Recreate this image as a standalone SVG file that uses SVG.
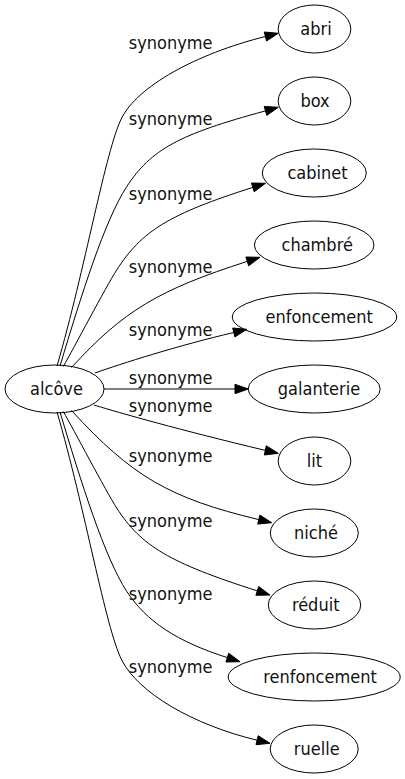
<svg xmlns="http://www.w3.org/2000/svg" width="405" height="779" viewBox="0 0 405 779">
<style>
.n ellipse{fill:none;stroke:#000;stroke-width:1}
text{font-family:"DejaVu Sans Condensed","DejaVu Sans",sans-serif;font-size:18px;fill:#111;text-anchor:middle}
.e path{fill:none;stroke:#000;stroke-width:1}
.e polygon{fill:#000;stroke:#000;stroke-width:1}
</style>
<rect width="405" height="779" fill="#fff"/>
<g class="e" id="edges">
<path d="M57,366 C85,270 105.5,150 121.7,118 C137.5,86.7 195,54.1 265.4,36.5"/>
<polygon points="278.3,33.3 266.5,41 264.3,32"/>
<text x="170.6" y="49">synonyme</text>
<path d="M60,366 C81,296 104.7,220.3 126.7,186.7 C151.1,149.4 178.9,134.3 265.5,110.9"/>
<polygon points="278.3,107.3 266.8,115.4 264.2,106.4"/>
<text x="170.6" y="124.5">synonyme</text>
<path d="M63.3,366.5 C73.3,349.1 105.9,286.8 116.7,270 C142,230.6 169.2,214.1 252.8,187.4"/>
<polygon points="265.5,183.3 254.2,191.8 251.4,183"/>
<text x="170.6" y="200">synonyme</text>
<path d="M71.5,367.5 C123.3,311 158.4,289.8 247.3,261.4"/>
<polygon points="260,257.3 248.7,265.8 245.9,257"/>
<text x="170.6" y="273">synonyme</text>
<path d="M95,373 C120,364 180,345 233.8,332.5"/>
<polygon points="246.7,329.3 234.9,337 232.7,328"/>
<text x="170.6" y="336">synonyme</text>
<path d="M104,389 L235,389"/>
<polygon points="248.3,389 235,393.67 235,384.33"/>
<text x="170.6" y="384">synonyme</text>
<path d="M94,405 C120,413 180,430 265.3,450.4"/>
<polygon points="278.3,453.3 264.3,455 266.3,445.8"/>
<text x="170.6" y="412">synonyme</text>
<path d="M71.5,410.5 C131.8,476.3 169.3,498.2 258.8,519.6"/>
<polygon points="271.7,522.7 257.7,524.1 259.9,515.1"/>
<text x="170.6" y="462">synonyme</text>
<path d="M63.3,411.5 C73.3,428.9 105.9,491.2 116.7,508 C141.3,546.2 169.4,562.7 257.3,590.9"/>
<polygon points="270,595 255.9,595.3 258.7,586.5"/>
<text x="170.6" y="527">synonyme</text>
<path d="M60,412 C81,482 104.7,557.7 126.7,591.3 C146.5,621.5 176.7,641.4 227.3,657.6"/>
<polygon points="240,661.7 225.9,662 228.7,653.2"/>
<text x="170.6" y="600">synonyme</text>
<path d="M57,412 C85,508 105.5,628 121.7,660 C138.2,692.6 192.4,724.7 257.1,740.2"/>
<polygon points="270,743.3 256,744.7 258.2,735.7"/>
<text x="170.6" y="673">synonyme</text>
</g>
<g class="n" id="node-alcove"><ellipse cx="54.5" cy="389" rx="49.5" ry="24"/><text x="56.5" y="394.5">alcôve</text></g>
<g class="n" id="node-abri"><ellipse cx="314.5" cy="29" rx="36.3" ry="24"/><text x="316" y="34.5">abri</text></g>
<g class="n" id="node-box"><ellipse cx="314.5" cy="101" rx="36.3" ry="24"/><text x="315" y="106.5">box</text></g>
<g class="n" id="node-cabinet"><ellipse cx="314.3" cy="173" rx="52" ry="24"/><text x="317.5" y="178.5">cabinet</text></g>
<g class="n" id="node-chambre"><ellipse cx="314.2" cy="245" rx="59.8" ry="24"/><text x="317.2" y="250.5">chambré</text></g>
<g class="n" id="node-enfoncement"><ellipse cx="314.5" cy="317" rx="82.2" ry="24"/><text x="319.2" y="322.5">enfoncement</text></g>
<g class="n" id="node-galanterie"><ellipse cx="314.2" cy="389" rx="66" ry="24"/><text x="319" y="394.5">galanterie</text></g>
<g class="n" id="node-lit"><ellipse cx="314.5" cy="461" rx="36.3" ry="24"/><text x="314.5" y="466.5">lit</text></g>
<g class="n" id="node-niche"><ellipse cx="314.3" cy="533" rx="44" ry="24"/><text x="316" y="538.5">niché</text></g>
<g class="n" id="node-reduit"><ellipse cx="314.5" cy="605" rx="46.2" ry="24"/><text x="315.7" y="610.5">réduit</text></g>
<g class="n" id="node-renfoncement"><ellipse cx="314.2" cy="677" rx="86" ry="24"/><text x="320" y="682.5">renfoncement</text></g>
<g class="n" id="node-ruelle"><ellipse cx="314.2" cy="749" rx="44" ry="24"/><text x="316.7" y="754.5">ruelle</text></g>
</svg>
